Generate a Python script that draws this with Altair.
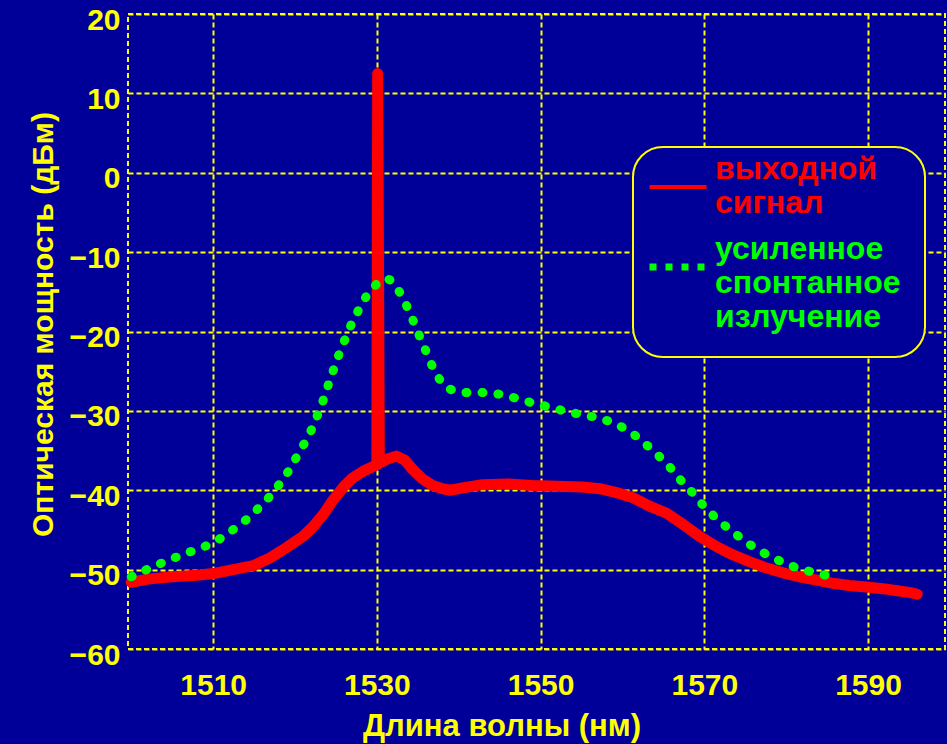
import altair as alt
import pandas as pd

SIG = "выходной сигнал"
ASE = "усиленное спонтанное излучение"

# output signal (red): wavelength, nm / power, dBm
sig_wl = [1500.0, 1502.0, 1505.0, 1508.0, 1510.0, 1512.0, 1514.9, 1517.0, 1519.0, 1521.0,
          1522.2, 1523.5, 1524.6, 1526.0, 1527.1, 1528.5, 1530.0, 1530.1, 1530.3, 1531.2,
          1532.4, 1533.4, 1534.4, 1535.6, 1536.8, 1538.0, 1538.9, 1540.5, 1542.9, 1546.0,
          1549.0, 1552.0, 1555.1, 1557.2, 1559.3, 1561.2, 1563.3, 1565.4, 1567.4, 1569.4,
          1571.5, 1573.4, 1575.5, 1577.6, 1579.6, 1581.6, 1583.6, 1585.6, 1587.7, 1589.8,
          1591.8, 1593.8, 1595.2, 1596.0]
sig_db = [-51.6, -51.2, -50.9, -50.7, -50.5, -50.1, -49.5, -48.5, -47.2, -45.8,
          -44.6, -43.0, -41.3, -39.5, -38.4, -37.5, -36.8, 12.5, -36.6, -36.1,
          -35.7, -36.2, -37.4, -38.6, -39.4, -39.8, -40.0, -39.7, -39.3, -39.2,
          -39.4, -39.5, -39.6, -39.8, -40.3, -40.9, -42.0, -42.9, -44.3, -45.8,
          -47.1, -48.1, -49.0, -49.8, -50.4, -50.9, -51.3, -51.7, -52.0, -52.2,
          -52.4, -52.7, -52.9, -53.1]

# amplified spontaneous emission (green, dotted)
ase_wl = [1500.0, 1502.7, 1504.8, 1506.8, 1508.5, 1510.0, 1511.5, 1512.9, 1514.3, 1515.7,
          1517.0, 1518.2, 1519.2, 1520.2, 1521.2, 1522.2, 1523.4, 1524.3, 1525.5, 1526.7,
          1527.9, 1528.8, 1529.5, 1530.3, 1531.2, 1531.8, 1532.4, 1533.1, 1533.7, 1534.3,
          1534.9, 1535.5, 1536.1, 1536.7, 1537.3, 1538.0, 1538.7, 1540.0, 1541.0, 1543.0,
          1545.0, 1547.0, 1549.0, 1551.0, 1553.2, 1555.2, 1557.2, 1559.2, 1561.2, 1563.3,
          1565.4, 1567.0, 1568.3, 1569.5, 1571.5, 1573.4, 1575.5, 1577.6, 1579.6, 1581.6,
          1583.6, 1585.6]
ase_db = [-50.9, -49.6, -48.7, -47.9, -47.3, -46.6, -45.7, -44.6, -43.5, -42.1,
          -40.7, -39.1, -37.6, -35.8, -34.0, -32.0, -28.8, -26.0, -22.5, -19.5,
          -17.0, -15.4, -14.5, -13.7, -13.3, -13.6, -14.4, -15.6, -16.9, -18.3,
          -19.8, -21.3, -22.7, -24.2, -25.5, -26.5, -27.2, -27.6, -27.7, -27.7,
          -27.9, -28.4, -29.0, -29.5, -30.1, -30.5, -30.9, -31.6, -32.8, -34.6,
          -36.6, -38.6, -40.0, -41.5, -43.6, -45.2, -46.8, -48.1, -49.1, -49.9,
          -50.4, -50.9]

x_ticks = [1510, 1530, 1550, 1570, 1590]
y_ticks = [-60, -50, -40, -30, -20, -10, 0, 10, 20]

df = pd.concat([
    pd.DataFrame({"wl": sig_wl, "p": sig_db, "series": SIG}),
    pd.DataFrame({"wl": ase_wl, "p": ase_db, "series": ASE}),
], ignore_index=True)

BG = "#000099"
YEL = "#FFFF00"
RED = "#FF0000"
GRN = "#00FF00"
FONT = "Liberation Sans"

x = alt.X("wl:Q",
          scale=alt.Scale(domain=[1499.6, 1599.4], nice=False, zero=False),
          axis=alt.Axis(values=x_ticks, format="d", title="Длина волны (нм)",
                        labelPadding=21, titleX=373.5, titleY=86,
                        titleBaseline="alphabetic", titleFontSize=31))
y = alt.Y("p:Q",
          scale=alt.Scale(domain=[-60, 20], nice=False, zero=False),
          axis=alt.Axis(values=y_ticks, format="d", title="Оптическая мощность (дБм)",
                        labelPadding=8, labelOffset=6, titleX=-76, titleY=310,
                        titleBaseline="alphabetic", titleFontSize=30))
color = alt.Color(
    "series:N",
    scale=alt.Scale(domain=[SIG, ASE], range=[RED, GRN]),
    legend=alt.Legend(
        title=None, orient="none", legendX=505, legendY=133,
        symbolType="stroke", symbolSize=3249, symbolOffset=5,
        symbolStrokeWidth=alt.ExprRef(f"datum.value === '{SIG}' ? 4 : 7"),
        symbolDash=alt.ExprRef(f"datum.value === '{SIG}' ? [1, 0] : [7, 9]"),
        labelColor=alt.ExprRef(f"datum.value === '{SIG}' ? '{RED}' : '{GRN}'"),
        labelExpr="split(datum.label, ' ')",
        labelBaseline="line-bottom",
        labelFont=FONT, labelFontSize=32, labelFontWeight="bold",
        labelOffset=21, labelLimit=400, padding=24, rowPadding=14,
        fillColor=BG, strokeColor=YEL, cornerRadius=30),
)

base = alt.Chart(df).encode(x=x, y=y, color=color)

red = base.transform_filter(alt.datum.series == SIG).mark_line(
    strokeWidth=11, strokeCap="round", strokeJoin="round")
green = base.transform_filter(alt.datum.series == ASE).mark_line(
    strokeWidth=9, strokeDash=[1, 15], strokeCap="round", strokeJoin="round")

chart = alt.layer(red, green).properties(
    width=817, height=635,
    padding={"left": 128, "top": 14, "right": 2, "bottom": 95},
    autosize=alt.AutoSizeParams(type="none"),
).configure(
    background=BG, font=FONT,
).configure_view(
    fill=BG, stroke=YEL, strokeDash=[5, 3], strokeWidth=2,
).configure_axis(
    labelColor=YEL, titleColor=YEL, labelFont=FONT, titleFont=FONT,
    labelFontSize=30, labelFontWeight="bold", titleFontWeight="bold",
    gridColor=YEL, gridDash=[5, 3], gridWidth=2, gridOpacity=1,
    domain=False, ticks=False,
).configure_legend(
    strokeWidth=2,
)

chart.save("out.html", embed_options={"renderer": "svg", "actions": False})
